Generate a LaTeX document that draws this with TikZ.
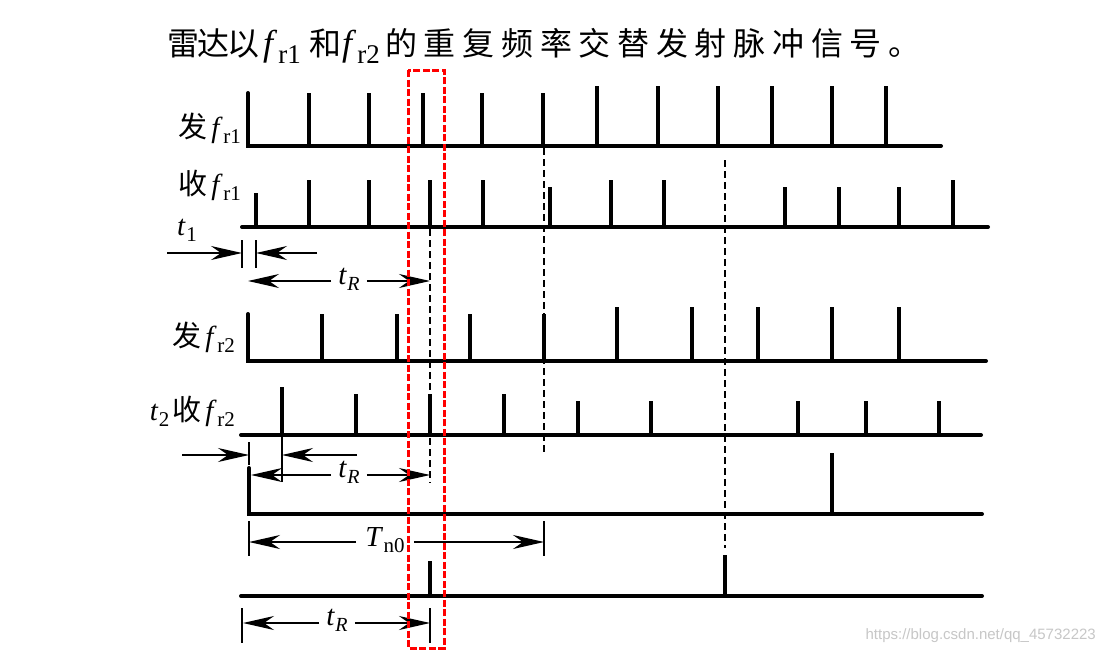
\documentclass[tikz,border=0pt]{standalone}
\usepackage{fontspec}
\setmainfont{Liberation Serif}
\newfontfamily\cjk{Noto Sans CJK SC}
\newfontfamily\cjkw[LetterSpace=21]{Noto Sans CJK SC}
\newfontfamily\cjkn[LetterSpace=-6]{Noto Sans CJK SC}
\newfontfamily\wmfont{Liberation Sans}
\usetikzlibrary{arrows.meta}
\newcommand{\fsub}[1]{\textit{f}\kern0.5pt\raisebox{-6pt}{\fontsize{21}{21}\selectfont r#1}}
\newcommand{\ftit}[1]{{\fontsize{36}{36}\selectfont\textit{f}}\kern1pt\raisebox{-8pt}{\fontsize{27}{27}\selectfont r#1}}
\newcommand{\tsub}[1]{\textit{t}\kern0.5pt\raisebox{-6pt}{\fontsize{21}{21}\selectfont #1}}
\newcommand{\tRl}{\textit{t}\kern0.5pt\raisebox{-6pt}{\fontsize{20}{20}\selectfont\textit{R}}}
\newcommand{\Tno}{\textit{T}\kern0.5pt\raisebox{-6pt}{\fontsize{21}{21}\selectfont n0}}
\begin{document}
\begin{tikzpicture}[x=1pt,y=-1pt,
  base/.style={line width=4pt, line cap=round, line join=miter},
  pulse/.style={line width=3.5pt},
  vdash/.style={line width=1.8pt, dash pattern=on 7pt off 4pt},
  tick/.style={line width=1.5pt},
  dim/.style={line width=1.3pt, -{Stealth[length=31pt,width=14pt,inset=10pt]}},
  redbox/.style={draw=red, line width=3pt, dash pattern=on 7pt off 2.5pt},
  lab/.style={font=\fontsize{29}{30}\selectfont, inner sep=0pt},
  dlab/.style={font=\fontsize{29}{30}\selectfont, inner sep=0pt},
  tt/.style={font=\fontsize{32}{34}\selectfont, inner sep=0pt, anchor=base west},
]
\useasboundingbox[fill=white] (0,0) rectangle (1104,654);

% title
\node[tt] (ti1) at (167,55) {\cjkn 雷达以};
\node[tt] (ti2) at (263,55) {\ftit{1}};
\node[tt] (ti3) at (309,55) {\cjk 和};
\node[tt] (ti4) at (342,55) {\ftit{2}};
\node[tt] (ti5) at (385,55) {\cjkw 的重复频率交替发射脉冲信号。};

% row labels
\node[lab, anchor=base east] (l1) at (241,137) {{\cjk 发}\hspace{4pt}\fsub{1}};
\node[lab, anchor=base east] (l2) at (241,194) {{\cjk 收}\hspace{4pt}\fsub{1}};
\node[lab, anchor=base west] (l2t) at (177,235) {\tsub{1}};
\node[lab, anchor=base east] (l3) at (235,346) {{\cjk 发}\hspace{4pt}\fsub{2}};
\node[lab, anchor=base east] (l4) at (235,420) {\tsub{2}\hspace{3pt}{\cjk 收}\hspace{4pt}\fsub{2}};

% dashed guides
\draw[vdash] (430,229) -- (430,483);
\draw[vdash] (544,148) -- (544,455);
\draw[vdash] (725,160) -- (725,548);

% row 1: transmit fr1
\draw[base] (248,93) -- (248,146) -- (941,146);
\foreach \x/\t in {309/93,369/93,423/93,482/93,543/93,597/86,658/86,718/86,772/86,832/86,886/86}
  \draw[pulse] (\x,146) -- (\x,\t);

% row 2: receive fr1
\draw[base] (242,227) -- (988,227);
\foreach \x/\t in {256/193,309/180,369/180,430/180,483/180,550/187,611/180,664/180,785/187,839/187,899/187,953/180}
  \draw[pulse] (\x,227) -- (\x,\t);

% row 3: transmit fr2
\draw[base] (248,314) -- (248,361) -- (986,361);
\foreach \x/\t in {322/314,397/314,470/314,544/314,617/307,692/307,758/307,832/307,899/307}
  \draw[pulse] (\x,361) -- (\x,\t);

% row 4: receive fr2
\draw[base] (241,435) -- (981,435);
\foreach \x/\t in {282/387,356/394,430/394,504/394,578/401,651/401,798/401,866/401,939/401}
  \draw[pulse] (\x,435) -- (\x,\t);

% row 5
\draw[base] (249,468) -- (249,514) -- (982,514);
\draw[pulse] (832,514) -- (832,453);

% row 6
\draw[base] (241,596) -- (982,596);
\draw[pulse] (430,596) -- (430,561);
\draw[pulse] (725,596) -- (725,555);

% t1 dimension
\draw[tick] (242,240) -- (242,268);
\draw[tick] (256,240) -- (256,268);
\coordinate (t1a) at (167,253); \coordinate (t1b) at (242,253);
\coordinate (t1c) at (317,253); \coordinate (t1d) at (256,253);
\draw[dim] (t1a) -- (t1b);
\draw[dim] (t1c) -- (t1d);

% tR dimension (row 2)
\node[dlab, inner xsep=7pt] (tr1) at (349,279) {\tRl};
\coordinate (tr1l) at (248,281); \coordinate (tr1r) at (430,281);
\draw[dim] (tr1.west |- tr1l) -- (tr1l);
\draw[dim] (tr1.east |- tr1r) -- (tr1r);

% t2 dimension
\draw[tick] (249,442) -- (249,465);
\draw[tick] (282,437) -- (282,482);
\coordinate (t2a) at (182,455); \coordinate (t2b) at (249,455);
\coordinate (t2c) at (357,455); \coordinate (t2d) at (282,455);
\draw[dim] (t2a) -- (t2b);
\draw[dim] (t2c) -- (t2d);

% tR dimension (row 4)
\node[dlab, inner xsep=7pt] (tr2) at (349,472) {\tRl};
\coordinate (tr2l) at (251,475); \coordinate (tr2r) at (430,475);
\draw[dim] (tr2.west |- tr2l) -- (tr2l);
\draw[dim] (tr2.east |- tr2r) -- (tr2r);

% Tn0 dimension
\draw[tick] (249,521) -- (249,556);
\draw[tick] (544,521) -- (544,556);
\node[dlab, inner xsep=9pt] (tn) at (385,540) {\Tno};
\coordinate (tnl) at (249,542); \coordinate (tnr) at (544,542);
\draw[dim] (tn.west |- tnl) -- (tnl);
\draw[dim] (tn.east |- tnr) -- (tnr);

% bottom tR dimension
\draw[tick] (242,608) -- (242,643);
\draw[tick] (430,608) -- (430,643);
\node[dlab, inner xsep=7pt] (tr3) at (337,620) {\tRl};
\coordinate (tr3l) at (243,623); \coordinate (tr3r) at (430,623);
\draw[dim] (tr3.west |- tr3l) -- (tr3l);
\draw[dim] (tr3.east |- tr3r) -- (tr3r);

% red dashed window
\draw[redbox] (408,70) rectangle (444,648);

% watermark
\node[anchor=east, inner sep=0pt, text=black!22, font=\wmfont\fontsize{15}{16}\selectfont] (wm) at (1096,636) {https://blog.csdn.net/qq\_45732223};
\end{tikzpicture}
\end{document}
